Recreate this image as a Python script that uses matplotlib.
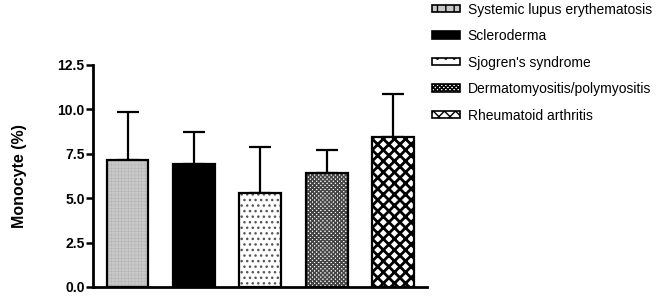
import matplotlib
matplotlib.use("Agg")
import matplotlib.pyplot as plt
import matplotlib.patches as mpatches

plt.rcParams['font.family'] = ['Liberation Sans', 'DejaVu Sans']

# group labels, means and upper SD
groups = ['Systemic lupus erythematosis', 'Scleroderma', "Sjogren's syndrome",
          'Dermatomyositis/polymyositis', 'Rheumatoid arthritis']
means = [7.13, 6.9, 5.28, 6.4, 8.43]
sd = [2.70, 1.82, 2.59, 1.30, 2.45]
yticks = [0.0, 2.5, 5.0, 7.5, 10.0, 12.5]

# fill style per group: face colour, hatch, hatch colour, hatch width
faces = ['#c9c9c9', 'black', 'white', 'white', 'white']
hatches = ['+++++', '', '...', 'xxxxxxxx', 'xxx']
hcolors = ['#b5b5b5', 'black', '#555555', '#444444', 'black']
hwidths = [0.4, 1.0, 1.0, 1.1, 2.0]

fig = plt.figure(figsize=(6.71, 2.97), dpi=100)
ax = fig.add_axes([0.1386, 0.0337, 0.4978, 0.7475])

x = list(range(len(groups)))
handles = []
for i in x:
    b = ax.bar(i, means[i], width=0.63, color=faces[i], edgecolor=hcolors[i],
               hatch=hatches[i], linewidth=0, zorder=2)
    for p in b:
        if hasattr(p, 'set_hatch_linewidth'):
            p.set_hatch_linewidth(hwidths[i])
    legend_hatch = hatches[i] if i >= 3 else hatches[i][:2]
    h = mpatches.Patch(facecolor=faces[i], edgecolor='black', linewidth=1.2,
                       hatch=legend_hatch)
    handles.append(h)
ax.bar(x, means, width=0.63, color='none', edgecolor='black', linewidth=1.6, zorder=3)
ax.errorbar(x, means, yerr=[[0] * len(sd), sd], fmt='none', ecolor='black',
            elinewidth=1.6, capsize=7.8, capthick=1.6, zorder=1)

ax.set_xlim(-0.52, 4.51)
ax.set_ylim(0, 12.5)
ax.set_yticks(yticks)
ax.set_yticklabels(['%.1f' % v for v in yticks], fontweight='bold', fontsize=10)
ax.set_xticks([])
ax.spines['top'].set_visible(False)
ax.spines['right'].set_visible(False)
ax.spines['left'].set_linewidth(2)
ax.spines['bottom'].set_linewidth(2)
ax.tick_params(axis='y', length=5, width=1.8, pad=1)
ax.set_ylabel('Monocyte (%)', fontweight='bold', fontsize=11.5, labelpad=22)

fig.legend(handles, groups, loc='upper left', bbox_to_anchor=(0.636, 1.01),
           frameon=False, fontsize=10, handlelength=2.0, handleheight=0.45,
           handletextpad=0.55, labelspacing=0.9, borderaxespad=0)

fig.savefig('out.png', dpi=100)
